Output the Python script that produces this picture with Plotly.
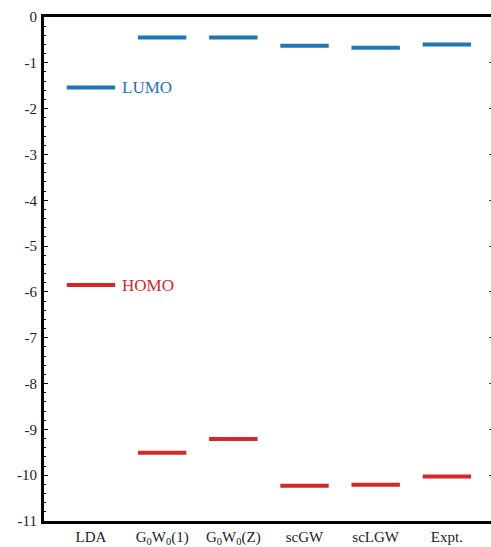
import plotly.graph_objects as go

# Quasiparticle frontier orbital energies (eV) per method
methods = ["LDA", "G<sub>0</sub>W<sub>0</sub>(1)", "G<sub>0</sub>W<sub>0</sub>(Z)", "scGW", "scLGW", "Expt."]
lumo = [-1.54, -0.45, -0.45, -0.63, -0.67, -0.60]
homo = [-5.85, -9.51, -9.21, -10.23, -10.21, -10.03]
y_ticks = list(range(0, -12, -1))

BLUE = "#1f77b4"
RED = "#d62728"
HALF = 0.34  # half-width of each level bar, in category units
FONT = "Liberation Serif"


def level_segments(values):
    xs, ys = [], []
    for i, v in enumerate(values):
        xs += [i - HALF, i + HALF, None]
        ys += [v, v, None]
    return xs, ys


fig = go.Figure()
for vals, col, name in [(lumo, BLUE, "LUMO"), (homo, RED, "HOMO")]:
    xs, ys = level_segments(vals)
    fig.add_trace(go.Scatter(x=xs, y=ys, mode="lines", name=name,
                             line=dict(color=col, width=4), showlegend=False,
                             hoverinfo="skip"))
    fig.add_annotation(x=HALF + 0.07, y=vals[0], text=name, showarrow=False,
                       xanchor="left", yanchor="middle",
                       font=dict(family=FONT, size=17, color=col))

# invisible trace carrying the right-hand tick axis
fig.add_trace(go.Scatter(x=[0], y=[0], yaxis="y2", mode="markers",
                         marker=dict(opacity=0), showlegend=False,
                         hoverinfo="skip"))

fig.update_layout(
    width=491, height=547,
    margin=dict(l=44, r=0, t=17, b=26),
    paper_bgcolor="white", plot_bgcolor="white",
    xaxis=dict(
        range=[-0.66, 5.62], automargin=False,
        tickmode="array", tickvals=list(range(len(methods))), ticktext=methods,
        showgrid=False, zeroline=False, ticks="",
        showline=True, linecolor="black", linewidth=3, mirror=True,
        tickfont=dict(family=FONT, size=15, color="#222"),
        ticklabelstandoff=0,
    ),
    yaxis=dict(
        range=[-11, 0], automargin=False,
        tickmode="array", tickvals=y_ticks, ticktext=[str(v) for v in y_ticks],
        showgrid=False, zeroline=False,
        showline=True, linecolor="black", linewidth=3,
        ticks="inside", ticklen=4, tickwidth=1, tickcolor="black",
        minor=dict(dtick=0.2, ticks="inside", ticklen=2, tickwidth=1,
                   tickcolor="black", showgrid=False),
        tickfont=dict(family=FONT, size=15, color="#222"),
        ticklabelstandoff=1,
    ),
    yaxis2=dict(
        range=[-11, 0], overlaying="y", side="right", automargin=False,
        tickmode="array", tickvals=y_ticks,
        showticklabels=False, showgrid=False, zeroline=False, showline=False,
        ticks="inside", ticklen=2, tickwidth=1, tickcolor="#444",
    ),
)

fig.write_html("out.html")
